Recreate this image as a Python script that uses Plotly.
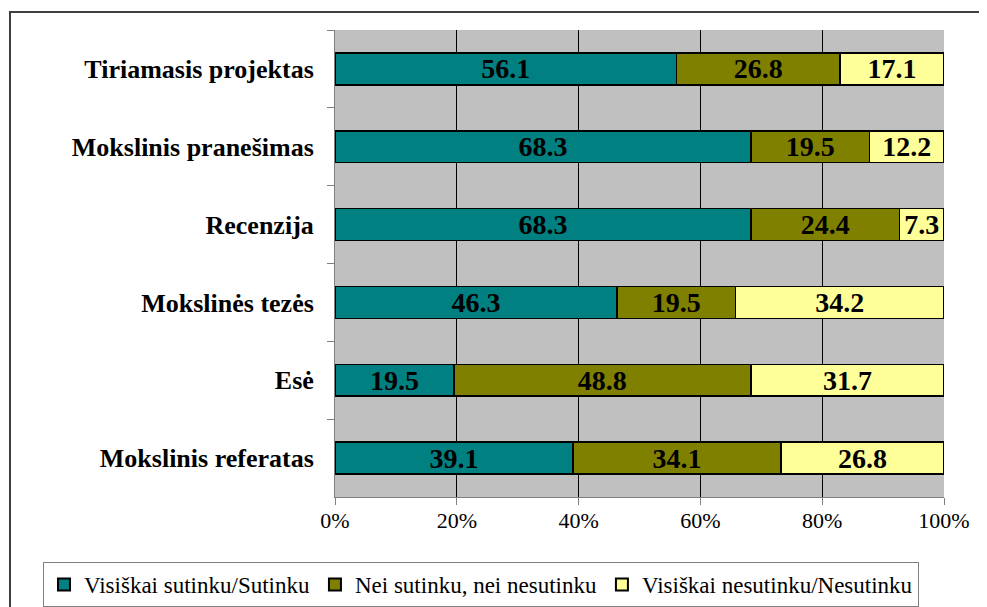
import plotly.graph_objects as go

categories = ["Tiriamasis projektas", "Mokslinis pranešimas", "Recenzija",
              "Mokslinės tezės", "Esė", "Mokslinis referatas"]
series_names = ["Visiškai sutinku/Sutinku", "Nei sutinku, nei nesutinku",
                "Visiškai nesutinku/Nesutinku"]
agree = [56.1, 68.3, 68.3, 46.3, 19.5, 39.1]
neutral = [26.8, 19.5, 24.4, 19.5, 48.8, 34.1]
disagree = [17.1, 12.2, 7.3, 34.2, 31.7, 26.8]
x_ticks = [0, 20, 40, 60, 80, 100]
x_tick_labels = ["0%", "20%", "40%", "60%", "80%", "100%"]
x_grid = [20, 40, 60, 80]

colors = ["#008080", "#808000", "#FFFF99"]
FONT = "Liberation Serif, Times New Roman, serif"

fig = go.Figure()
for name, vals, col in zip(series_names, [agree, neutral, disagree], colors):
    fig.add_trace(go.Bar(
        y=categories, x=vals, name=name, orientation="h",
        marker=dict(color=col, line=dict(color="black", width=1.5)),
        text=[f"{v:.1f}" for v in vals], textposition="inside",
        insidetextanchor="middle", constraintext="none",
        textfont=dict(family=FONT, size=28, color="black", weight="bold"),
        hoverinfo="skip",
    ))

# page body has an 8px margin: target pixel positions are shifted by OFF
OFF = 8
W, H = 987, 607
pl, pr, pt, pb = 335, 944, 30, 497          # plot area in screenshot pixels
L, T = pl - OFF, pt - OFF
pw, ph = pr - pl, pb - pt
R, B = W - L - pw, H - T - ph

def px(xp):
    return (xp - pl) / pw

def py(yp):
    return (pb - yp) / ph

fig.update_layout(
    width=W, height=H, barmode="stack", bargap=0.59,
    margin=dict(l=L, r=R, t=T, b=B, autoexpand=False),
    paper_bgcolor="white", plot_bgcolor="#C0C0C0",
    font=dict(family=FONT, color="black"),
    showlegend=True,
    legend=dict(orientation="h", x=px(43), y=py(562), xanchor="left", yanchor="top",
                bordercolor="#808080", borderwidth=1, bgcolor="white",
                font=dict(family=FONT, size=23, color="black"),
                itemsizing="constant", tracegroupgap=0, traceorder="normal"),
    xaxis=dict(range=[0, 100], tickvals=x_ticks, ticktext=x_tick_labels,
               showgrid=False,
               minor=dict(tickvals=x_grid, showgrid=True, gridcolor="black",
                          gridwidth=1, ticks=""),
               showline=True, linecolor="#808080", linewidth=1, mirror=False,
               ticks="outside", ticklen=7, tickcolor="#808080",
               ticklabelstandoff=-3,
               tickfont=dict(family=FONT, size=22, color="black"),
               zeroline=False, fixedrange=True),
    yaxis=dict(autorange="reversed", showgrid=False, showline=True,
               linecolor="#808080", linewidth=1,
               ticks="outside", ticklen=7, tickcolor="#808080",
               tickson="boundaries", ticklabelstandoff=15,
               tickfont=dict(family=FONT, size=26, color="black", weight="bold"),
               fixedrange=True),
    shapes=[dict(type="rect", xref="paper", yref="paper",
                 x0=px(10), x1=px(1100), y0=py(12), y1=py(700),
                 line=dict(color="#404040", width=2), fillcolor="rgba(0,0,0,0)",
                 layer="below")],
)

fig.write_html("out.html")
